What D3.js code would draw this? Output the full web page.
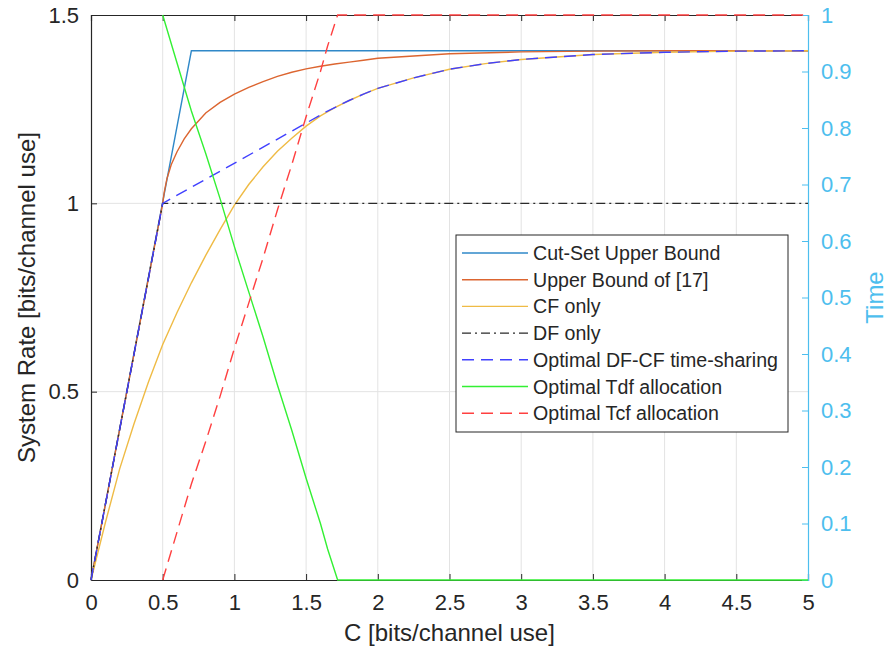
<!DOCTYPE html>
<html>
<head>
<meta charset="utf-8">
<script src="https://cdn.jsdelivr.net/npm/d3@7"></script>
<style>
    body { margin: 0; background: #fff; }
    svg { font-family: "Liberation Sans", Arial, sans-serif; }
</style>
</head>
<body>
<svg id="chart" width="889" height="649"></svg>
<script>
// ---- data ----
let xTicks = [0, 0.5, 1, 1.5, 2, 2.5, 3, 3.5, 4, 4.5, 5];
let yTicksLeft = [0, 0.5, 1, 1.5];
let yTicksRight = [0, 0.1, 0.2, 0.3, 0.4, 0.5, 0.6, 0.7, 0.8, 0.9, 1];

let cutSetC = [0, 0.7, 5];
let cutSetR = [0, 1.405, 1.405];

let ub17C = [0, 0.5, 0.51, 0.53, 0.56, 0.6, 0.65, 0.7, 0.8, 0.9, 1.0, 1.1, 1.2, 1.3, 1.4, 1.5, 1.6, 1.7, 1.8, 1.9, 2.0, 2.5, 3, 3.5, 4, 5];
let ub17R = [0, 1.0, 1.028, 1.066, 1.103, 1.137, 1.171, 1.198, 1.24, 1.268, 1.29, 1.308, 1.323, 1.337, 1.348, 1.357, 1.364, 1.37, 1.375, 1.38, 1.385, 1.397, 1.402, 1.404, 1.405, 1.405];

let cfC = [0, 0.1, 0.2, 0.3, 0.4, 0.5, 0.6, 0.7, 0.8, 0.9, 1.0, 1.1, 1.2, 1.3, 1.4, 1.5, 1.6, 1.7, 1.8, 1.9, 2.0, 2.25, 2.5, 2.75, 3, 3.5, 4, 4.5, 5];
let cfR = [0, 0.152, 0.295, 0.415, 0.525, 0.625, 0.71, 0.789, 0.862, 0.93, 0.995, 1.05, 1.097, 1.138, 1.173, 1.205, 1.232, 1.254, 1.273, 1.29, 1.305, 1.333, 1.356, 1.371, 1.382, 1.395, 1.401, 1.404, 1.405];

let dfC = [0, 0.5, 5];
let dfR = [0, 1, 1];

let tsC = [0, 0.5, 1.65, 1.8, 1.9, 2.0, 2.25, 2.5, 2.75, 3, 3.5, 4, 4.5, 5];
let tsR = [0, 1, 1.245, 1.273, 1.29, 1.305, 1.333, 1.356, 1.371, 1.382, 1.395, 1.401, 1.404, 1.405];

let timeC = [0.5, 0.6, 0.7, 0.8, 0.9, 1.0, 1.1, 1.2, 1.3, 1.4, 1.5, 1.6, 1.65, 1.72, 5];
let tdf = [1, 0.915, 0.83, 0.755, 0.675, 0.59, 0.51, 0.43, 0.345, 0.265, 0.18, 0.10, 0.055, 0, 0];
let tcf = [0, 0.085, 0.17, 0.245, 0.325, 0.41, 0.49, 0.57, 0.655, 0.735, 0.82, 0.90, 0.945, 1, 1];

let legendLabels = ["Cut-Set Upper Bound", "Upper Bound of [17]", "CF only", "DF only",
    "Optimal DF-CF time-sharing", "Optimal Tdf allocation", "Optimal Tcf allocation"];

// ---- layout ----
let WIDTH = 889,
    HEIGHT = 649,
    MARGINS = {top: 15, right: 81, bottom: 69, left: 91},
    AXIS = "#262626",
    RIGHT = "#4DBEEE",
    GRID = "#e3e3e3";

let vis = d3.select("#chart");
let xScale = d3.scaleLinear().domain([0, 5]).range([MARGINS.left, WIDTH - MARGINS.right]);
let yScale = d3.scaleLinear().domain([0, 1.5]).range([HEIGHT - MARGINS.bottom, MARGINS.top]);
let yScaleR = d3.scaleLinear().domain([0, 1]).range([HEIGHT - MARGINS.bottom, MARGINS.top]);

let x0 = xScale(0), x1 = xScale(5), yB = yScale(0), yT = yScale(1.5);

// grid
vis.append("g").selectAll("line").data(xTicks.slice(1, -1)).enter().append("line")
    .attr("x1", d => xScale(d)).attr("x2", d => xScale(d))
    .attr("y1", yB).attr("y2", yT)
    .attr("stroke", GRID).attr("stroke-width", 1);
vis.append("g").selectAll("line").data(yTicksLeft.slice(1, -1)).enter().append("line")
    .attr("x1", x0).attr("x2", x1)
    .attr("y1", d => yScale(d)).attr("y2", d => yScale(d))
    .attr("stroke", GRID).attr("stroke-width", 1);

// axes
let xAxis = d3.axisBottom(xScale).tickValues(xTicks).tickSize(-6).tickPadding(14).tickFormat(d3.format("~g"));
let xAxisTop = d3.axisTop(xScale).tickValues(xTicks).tickSize(-6).tickFormat("");
let yAxis = d3.axisLeft(yScale).tickValues(yTicksLeft).tickSize(-6).tickPadding(12).tickFormat(d3.format("~g"));
let yAxisR = d3.axisRight(yScaleR).tickValues(yTicksRight).tickSize(-6).tickPadding(13).tickFormat(d3.format("~g"));

function styleAxis(g, color, size) {
    g.select(".domain").attr("stroke", color).attr("stroke-width", 1.2);
    g.selectAll(".tick line").attr("stroke", color);
    g.selectAll(".tick text").attr("fill", color).style("font-size", size + "px");
}

vis.append("g").attr("transform", "translate(0," + yT + ")").call(xAxisTop)
    .call(g => styleAxis(g, AXIS, 22));
vis.append("g").attr("transform", "translate(0," + yB + ")").call(xAxis)
    .call(g => styleAxis(g, AXIS, 22));
vis.append("g").attr("transform", "translate(" + x0 + ",0)").call(yAxis)
    .call(g => styleAxis(g, AXIS, 22));
vis.append("g").attr("transform", "translate(" + x1 + ",0)").call(yAxisR)
    .call(g => styleAxis(g, RIGHT, 22));

// series (drawn over the axis lines, as in the figure)
function drawSeries(cs, vs, scale, color, dash) {
    let lineGen = d3.line()
        .x(function (d, i) { return xScale(cs[i]); })
        .y(function (d) { return scale(d); });
    vis.append("path")
        .attr("d", lineGen(vs))
        .attr("fill", "none")
        .attr("stroke", color)
        .attr("stroke-width", 1.4)
        .attr("stroke-dasharray", dash || null);
}

let styles = [
    {color: "#2f88c8", dash: null},
    {color: "#dc6530", dash: null},
    {color: "#efbb45", dash: null},
    {color: "#2a2a2a", dash: "9,4,2,4"},
    {color: "#4040ff", dash: "12,7"},
    {color: "#33f033", dash: null},
    {color: "#ff4040", dash: "12,7"}
];

drawSeries(cutSetC, cutSetR, yScale, styles[0].color, styles[0].dash);
drawSeries(ub17C, ub17R, yScale, styles[1].color, styles[1].dash);
drawSeries(cfC, cfR, yScale, styles[2].color, styles[2].dash);
drawSeries(dfC, dfR, yScale, styles[3].color, styles[3].dash);
drawSeries(tsC, tsR, yScale, styles[4].color, styles[4].dash);
drawSeries(timeC, tdf, yScaleR, styles[5].color, styles[5].dash);
drawSeries(timeC, tcf, yScaleR, styles[6].color, styles[6].dash);

// axis labels
vis.append("text")
    .attr("text-anchor", "middle")
    .attr("x", (x0 + x1) / 2).attr("y", 641)
    .attr("fill", AXIS).style("font-size", "24px")
    .text("C [bits/channel use]");
vis.append("text")
    .attr("text-anchor", "middle")
    .attr("transform", "translate(35," + ((yB + yT) / 2) + ")rotate(-90)")
    .attr("fill", AXIS).style("font-size", "24px")
    .text("System Rate [bits/channel use]");
vis.append("text")
    .attr("text-anchor", "middle")
    .attr("transform", "translate(883," + ((yB + yT) / 2) + ")rotate(-90)")
    .attr("fill", RIGHT).style("font-size", "24px")
    .text("Time");

// legend
let legend = vis.append("g").attr("transform", "translate(456,235)");
legend.append("rect")
    .attr("width", 332).attr("height", 197)
    .attr("fill", "#fff").attr("stroke", AXIS).attr("stroke-width", 1);
legendLabels.forEach((label, i) => {
    let cy = 18 + i * 26.7;
    legend.append("line")
        .attr("x1", 6).attr("x2", 72).attr("y1", cy).attr("y2", cy)
        .attr("stroke", styles[i].color).attr("stroke-width", 1.4)
        .attr("stroke-dasharray", styles[i].dash);
    legend.append("text")
        .attr("x", 77).attr("y", cy + 7)
        .attr("fill", AXIS).style("font-size", "19.6px")
        .text(label);
});
</script>
</body>
</html>
